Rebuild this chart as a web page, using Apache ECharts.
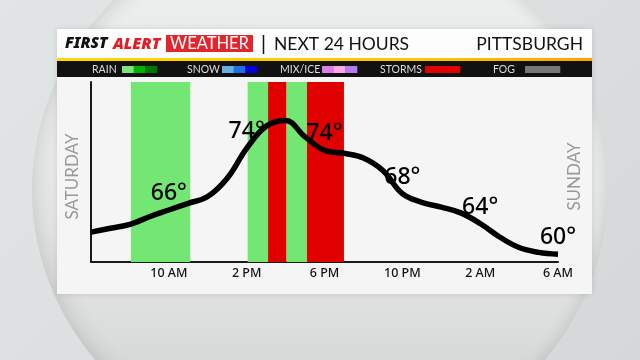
<!DOCTYPE html>
<html>
<head>
<meta charset="utf-8">
<script src="https://cdn.jsdelivr.net/npm/echarts@6/dist/echarts.min.js"></script>
<style>
html,body{margin:0;padding:0;width:640px;height:360px;overflow:hidden;}
body{position:relative;background:linear-gradient(135deg,#e1e5e5 0%,#dadede 60%,#d4d8d8 100%);}
#disk{position:absolute;left:32px;top:-82px;width:576px;height:544px;border-radius:50%;
 background:linear-gradient(to bottom,#eceeee 0%,#eaecec 45%,#dcdede 75%,#c9cbcb 100%);
 box-shadow:inset 6px 0 22px rgba(0,0,0,0.10), inset -4px 0 16px rgba(0,0,0,0.06);}
#chart{position:absolute;left:0;top:0;width:640px;height:360px;}
</style>
</head>
<body>
<div id="disk"></div>
<div id="chart"></div>
<script>
// ---- data ----
const hours = [0,1,2,3,4,5,6,7,8,9,10,11,12,13,14,15,16,17,18,19,20,21,22,23,24]; // hours after 6 AM Saturday
const temps = [62.4,62.8,63.2,64.0,64.7,65.4,66.1,68.0,71.1,73.4,74.0,72.3,70.9,70.6,70.1,68.8,66.4,65.5,65.0,64.4,63.3,61.9,60.8,60.3,60.1];
const tickHours = [4,8,12,16,20,24];
const tickLabels = ['10 AM','2 PM','6 PM','10 PM','2 AM','6 AM'];
const forecastHours = [4,8,12,16,20,24];
const forecastLabels = ['66°','74°','74°','68°','64°','60°'];
const precipStart = [2.05,8.05,9.1,10.05,11.1];
const precipEnd   = [5.1,9.1,10.05,11.1,13.0];
const precipType  = ['rain','rain','storm','rain','storm'];
const legendNames = ['RAIN','SNOW','MIX/ICE','STORMS','FOG'];
const legendColors = [['#7ee27e','#00b300','#007800'],['#6aaee6','#1e6ee6','#0000dd'],['#e07ae6','#f7a8e6','#b878f0'],['#e00000'],['#777777']];

// ---- styles / layout ----
const typeColor = {rain:'#73e673', storm:'#e00000'};
const FONT = 'Lato';
const NFONT = 'Noto Sans';
const legendX = [92,187,280,380,493];
const swatchX = [122,222,322,425,525];

function txt(text, x, y, opts){
  return Object.assign({text:text, x:x, y:y, fontFamily:FONT, fontSize:16, fontWeight:'normal', fontStyle:'normal', fill:'#111', verticalAlign:'middle'}, opts||{});
}

const chart = echarts.init(document.getElementById('chart'), null, {renderer:'canvas'});

const graphics = [
  {type:'rect', z:0, shape:{x:57,y:29,width:535,height:265}, style:{fill:'#f5f5f5', shadowBlur:6, shadowColor:'rgba(0,0,0,0.12)'}},
  {type:'rect', z:0, shape:{x:57,y:29,width:535,height:29}, style:{fill:'#fdfdfd'}},
  {type:'rect', z:0, shape:{x:57,y:58,width:535,height:3}, style:{fill:new echarts.graphic.LinearGradient(0,0,1,0,[{offset:0,color:'#ffd800'},{offset:0.7,color:'#ffc400'},{offset:1,color:'#ffa000'}])}},
  {type:'rect', z:0, shape:{x:57,y:61,width:535,height:16}, style:{fill:'#111111'}},
  {type:'text', z:10, style:txt('FIRST', 65, 44, {fontStyle:'italic', fontWeight:900, fontSize:15.5, fontFamily:NFONT})},
  {type:'text', z:10, style:txt('ALERT', 113, 44, {fontStyle:'italic', fontWeight:900, fontSize:16, fontFamily:NFONT, fill:'#e31b23'})},
  {type:'rect', z:9, shape:{x:166,y:35,width:87,height:17}, style:{fill:'#e3262e'}},
  {type:'text', z:10, style:txt('WEATHER', 209.5, 44, {fontSize:16.5, fill:'#fff', align:'center'})},
  {type:'line', z:10, shape:{x1:263.5,y1:35,x2:263.5,y2:54}, style:{stroke:'#111', lineWidth:1.5}},
  {type:'text', z:10, style:txt('NEXT 24 HOURS', 274, 44.5, {fontSize:17.5})},
  {type:'text', z:10, style:txt('PITTSBURGH', 583, 44.5, {fontSize:17.5, align:'right'})},
  {type:'text', z:10, rotation:Math.PI/2, x:72.5, y:176.5, style:txt('SATURDAY', 0, 0, {fontSize:17, fill:'#999', align:'center'})},
  {type:'text', z:10, rotation:Math.PI/2, x:575, y:176.5, style:txt('SUNDAY', 0, 0, {fontSize:17, fill:'#999', align:'center'})}
];
legendNames.forEach((n,i)=>{
  graphics.push({type:'text', z:10, style:txt(n, legendX[i], 69.5, {fontSize:10.5, fill:'#dddddd'})});
  const cols = legendColors[i];
  const w = 35/cols.length;
  cols.forEach((c,j)=>{
    graphics.push({type:'rect', z:10, shape:{x:swatchX[i]+j*w, y:66, width:w+0.3, height:7}, style:{fill:c}});
  });
});

const lineData = hours.map((h,i)=>[h,temps[i]]);
const labelData = forecastHours.map((h,i)=>({value:[h, temps[hours.indexOf(h)]], name:forecastLabels[i]}));

chart.setOption({
  backgroundColor:'transparent',
  animation:false,
  graphic: graphics,
  grid:{left:91, top:82, width:467, height:180, containLabel:false},
  xAxis:{type:'value', min:0, max:24, interval:4,
    axisLine:{show:true, onZero:false, lineStyle:{color:'#1a1a1a', width:2}},
    axisTick:{show:false}, splitLine:{show:false},
    axisLabel:{show:true, color:'#111', fontSize:12.5, fontWeight:500, fontFamily:NFONT, margin:5,
      formatter:v=>{const k=tickHours.indexOf(v); return k>=0?tickLabels[k]:'';}}},
  yAxis:{type:'value', min:59.3, max:78,
    axisLine:{show:true, onZero:false, lineStyle:{color:'#1a1a1a', width:2}},
    axisTick:{show:false}, splitLine:{show:false}, axisLabel:{show:false}},
  series:[
    {type:'line', z:1, data:[], silent:true,
      markArea:{silent:true, itemStyle:{opacity:1},
        data: precipStart.map((s,i)=>[{xAxis:s, itemStyle:{color:typeColor[precipType[i]]}},{xAxis:precipEnd[i]}])}},
    {type:'line', z:3, data:lineData, smooth:0.4, symbol:'none', silent:true,
      lineStyle:{color:'#000', width:5.5}},
    {type:'scatter', z:4, data:labelData, symbolSize:0, silent:true,
      itemStyle:{opacity:1},
      label:{show:true, position:'top', distance:5, formatter:p=>p.name, opacity:1,
        fontSize:23, fontWeight:500, fontFamily:NFONT, color:'#000'}}
  ]
});
</script>
</body>
</html>
